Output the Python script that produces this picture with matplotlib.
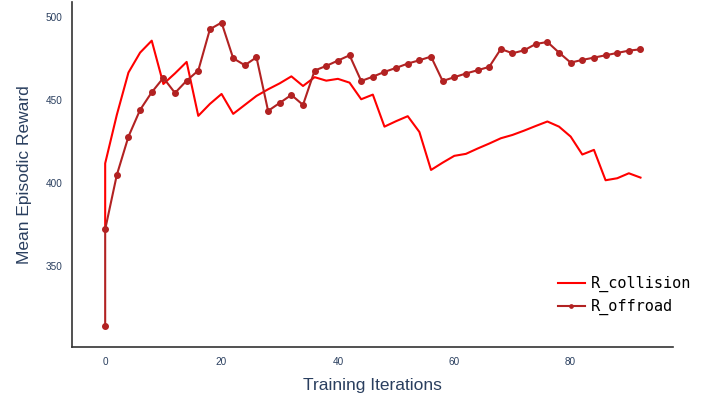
import matplotlib
matplotlib.use("Agg")
import matplotlib.pyplot as plt

# iterations (both runs log x=0 twice)
iters = [0, 0] + list(range(2, 94, 2))

r_collision = [372, 411.8, 441, 466.5, 478.5, 485.7, 459.6, 466, 472.9, 440.4,
               447.6, 453.6, 441.6, 447, 452.4, 456.4, 460, 464.2, 458.4, 463.7,
               461.6, 462.7, 460.4, 450.4, 453.2, 433.9, 437.2, 440.2, 430.7, 407.8,
               412.2, 416.3, 417.5, 420.7, 423.7, 426.9, 428.9, 431.5, 434.3, 437,
               433.9, 427.9, 417.1, 419.9, 401.6, 402.8, 405.8, 403.2]

r_offroad = [314, 372, 404.8, 427.9, 444, 454.6, 463.3, 454.2, 461.6, 467.7,
             492.6, 496.6, 475.1, 470.9, 475.7, 443.4, 448.2, 453, 447, 467.7,
             470.5, 473.7, 476.9, 461.4, 464, 466.9, 469.3, 471.9, 473.9, 476.1,
             461.4, 463.7, 465.9, 467.9, 469.9, 480.7, 478.1, 479.9, 483.7, 484.9,
             478.5, 472.5, 474.1, 475.5, 476.9, 478.3, 479.7, 480.5]

txt = "#2a3f5f"
plt.rcParams["font.family"] = ["Liberation Sans", "DejaVu Sans"]

fig = plt.figure(figsize=(7.13, 4.01), dpi=100)
ax = fig.add_axes([0.101, 0.135, 0.843, 0.86])

ax.plot(iters, r_collision, color="#ff0000", lw=1.5, label="R_collision")
ax.plot(iters, r_offroad, color="#b22222", lw=1.5, marker="o", ms=4,
        label="R_offroad")

ax.set_xlim(-5.7, 97.6)
ax.set_ylim(301.2, 509)
ax.set_xticks([0, 20, 40, 60, 80])
ax.set_yticks([350, 400, 450, 500])
ax.tick_params(length=0, labelsize=7.2, labelcolor=txt, pad=7)

for s in ["top", "right"]:
    ax.spines[s].set_visible(False)
for s in ["left", "bottom"]:
    ax.spines[s].set_color("#333333")
    ax.spines[s].set_linewidth(1.2)

ax.set_xlabel("Training Iterations", fontsize=12.5, color=txt, labelpad=8)
ax.set_ylabel("Mean Episodic Reward", fontsize=12.5, color=txt, labelpad=10)

ax.legend(loc="upper left", bbox_to_anchor=(0.785, 0.245), frameon=False,
          prop={"family": "DejaVu Sans Mono", "size": 11}, handlelength=1.8,
          handletextpad=0.4, labelspacing=0.45, markerscale=0.6)

fig.savefig("out.png", dpi=100)
